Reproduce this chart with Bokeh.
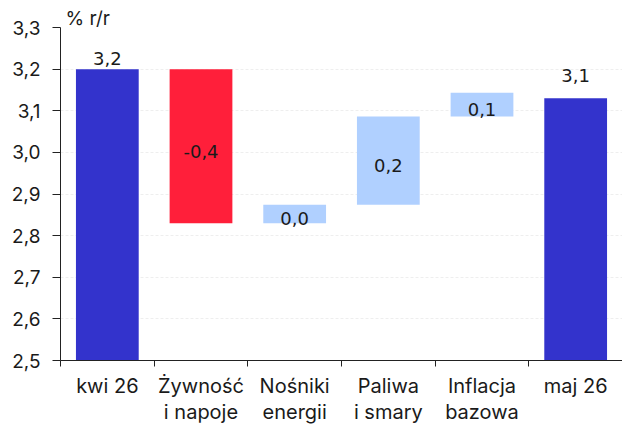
from bokeh.plotting import figure
from bokeh.models import FixedTicker, CustomJSTickFormatter, Range1d, ColumnDataSource
from bokeh.core.properties import value
from bokeh.embed import file_html
from bokeh.resources import INLINE

# ---- data ----
categories = ["kwi 26", "Żywność\ni napoje", "Nośniki\nenergii", "Paliwa\ni smary", "Inflacja\nbazowa", "maj 26"]
start_value = 3.2
changes = [-0.37, 0.044, 0.212, 0.057]
end_value = 3.13
y_ticks = [2.5, 2.6, 2.7, 2.8, 2.9, 3.0, 3.1, 3.2, 3.3]
unit_label = "% r/r"

BLUE = "#3333CC"
RED = "#FF1F3A"
LIGHT = "#B0D0FF"
TXT = "#1a1a1a"
AXIS_FONT = "Inter"
LABEL_FONT = "DejaVu Sans"

# build waterfall
xs = [i + 0.5 for i in range(len(categories))]
bottoms, tops, colors, vals = [], [], [], []
bottoms.append(y_ticks[0]); tops.append(start_value); colors.append(BLUE); vals.append(start_value)
level = start_value
for c in changes:
    new = level + c
    bottoms.append(min(level, new)); tops.append(max(level, new))
    colors.append(RED if c < 0 else LIGHT); vals.append(c)
    level = new
bottoms.append(y_ticks[0]); tops.append(end_value); colors.append(BLUE); vals.append(end_value)

def fmt(v):
    s = f"{v:.1f}"
    if s == "-0.0":
        s = "0.0"
    return s.replace(".", ",")

labels = [fmt(v) for v in vals]

p = figure(width=622, height=427, output_backend="svg", toolbar_location=None,
           x_range=Range1d(0, len(categories)), y_range=Range1d(y_ticks[0], y_ticks[-1]),
           min_border_left=60, min_border_right=0, min_border_top=27, min_border_bottom=67)
p.outline_line_color = None
p.background_fill_color = "white"

# unit label as title
p.title.text = unit_label
p.title.align = "left"
p.title.offset = 5
p.title.standoff = -4
p.title.text_font = AXIS_FONT
p.title.text_font_size = "19px"
p.title.text_font_style = "normal"
p.title.text_color = TXT

src = ColumnDataSource(dict(x=xs, top=tops, bottom=bottoms, color=colors))
p.vbar(x="x", top="top", bottom="bottom", width=0.67, fill_color="color", line_color=None, source=src)

# value labels: totals above the bars, changes in the middle
p.text(x=[xs[0]], y=[tops[0]], text=[labels[0]],
       text_align="center", text_baseline="middle", y_offset=-11,
       text_font=value(LABEL_FONT), text_font_size="18px", text_color=TXT)
p.text(x=[xs[-1]], y=[tops[-1]], text=[labels[-1]],
       text_align="center", text_baseline="middle", y_offset=-23,
       text_font=value(LABEL_FONT), text_font_size="18px", text_color=TXT)
chg_idx = list(range(1, len(categories) - 1))
p.text(x=[xs[i] for i in chg_idx], y=[(tops[i] + bottoms[i]) / 2 for i in chg_idx],
       text=[labels[i] for i in chg_idx],
       text_align="center", text_baseline="middle", y_offset=5,
       text_font=value(LABEL_FONT), text_font_size="18px", text_color=TXT)

# y axis
p.yaxis.ticker = FixedTicker(ticks=y_ticks)
p.yaxis.formatter = CustomJSTickFormatter(code="return tick.toFixed(1).replace('.', ',');")
p.yaxis.major_tick_out = 8
p.yaxis.major_tick_in = 0
p.yaxis.minor_tick_line_color = None
p.yaxis.axis_line_color = "#222222"
p.yaxis.major_tick_line_color = "#222222"
p.yaxis.major_label_text_font = AXIS_FONT
p.yaxis.major_label_text_font_size = "19px"
p.yaxis.major_label_text_color = TXT
p.yaxis.major_label_standoff = 12

# x axis: ticks at category boundaries (minor), labels at category centres (major)
p.xaxis.ticker = FixedTicker(ticks=xs, minor_ticks=list(range(len(categories) + 1)))
p.xaxis.formatter = CustomJSTickFormatter(args=dict(labels=categories),
                                          code="return labels[Math.floor(tick)];")
p.xaxis.major_tick_line_color = None
p.xaxis.major_tick_out = 0
p.xaxis.major_tick_in = 0
p.xaxis.minor_tick_out = 6
p.xaxis.minor_tick_in = 0
p.xaxis.minor_tick_line_color = "#222222"
p.xaxis.axis_line_color = "#222222"
p.xaxis.major_label_text_font = AXIS_FONT
p.xaxis.major_label_text_font_size = "20px"
p.xaxis.major_label_text_color = TXT
p.xaxis.major_label_standoff = 7
p.xaxis.major_label_text_line_height = 1.12

p.xgrid.grid_line_color = None
p.ygrid.grid_line_color = "#eeeeee"
p.ygrid.grid_line_dash = "3 2"

open("out.html", "w").write(file_html(p, INLINE))
